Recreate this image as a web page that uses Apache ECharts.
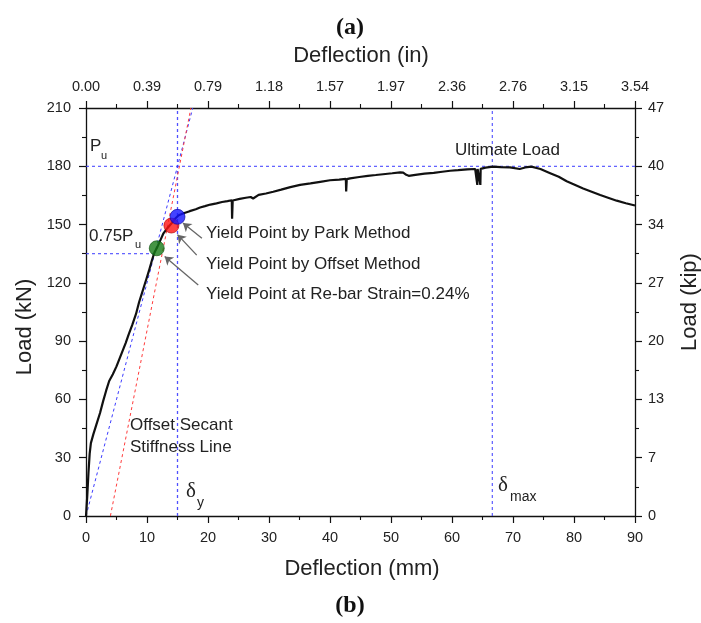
<!DOCTYPE html>
<html>
<head>
<meta charset="utf-8">
<script src="https://cdn.jsdelivr.net/npm/echarts@6/dist/echarts.min.js"></script>
<style>
html,body{margin:0;padding:0;background:#fff;}
#chart{width:701px;height:623px;}
</style>
</head>
<body>
<div id="chart"></div>
<script>
// ---- data ----
const deflectionMm = [0,0.2,0.4,0.6,0.8,1.2,1.7,2.3,2.8,3.3,3.8,4.4,5.0,5.5,6.0,6.5,7.0,7.6,8.2,8.7,9.2,9.5,9.9,10.3,10.8,11.2,11.7,12.2,12.7,13.3,14.0,14.6,15.2,16.0,17.0,18.0,18.7,19.5,20.4,21.4,22.3,23.2,23.9,23.95,24.05,24.2,25.2,26.2,27.0,27.4,27.7,28.3,29.5,30.7,32.0,33.5,35.1,36.8,38.4,40.0,41.5,42.6,42.65,42.75,43.3,44.8,46.2,47.5,48.7,50.2,51.5,52.0,52.5,52.9,54.0,55.5,57.0,58.4,59.7,61.0,62.5,63.8,64.15,64.2,64.3,64.65,64.7,64.8,65.5,66.7,68.0,69.5,71.1,72.0,73.0,74.5,76.0,77.5,78.8,80.2,81.5,83.0,84.3,85.7,87.0,88.5,90.0];
const loadKN = [0,10,22,32,37.5,42,47,53,59,64.5,69.5,73,77,81,85,89,93.5,98.5,104,110,115,118,122,126,131.5,135.5,138.5,142,145.5,148,150.5,153,154.8,155.8,156.9,157.9,158.8,159.5,160.3,160.9,161.6,162.1,162.5,153,162.4,162.7,163.2,163.8,164.2,163.4,164.3,165.3,166.0,166.9,168.0,169.3,170.4,171.2,172.0,172.8,173.1,173.5,167,173.4,173.8,174.5,175.1,175.5,175.9,176.4,176.9,176.7,175.6,175.1,175.6,176.2,176.6,177.2,177.7,178.0,178.4,178.6,170.4,178.6,178.6,170.4,178.7,178.9,179.3,179.8,179.6,179.4,178.6,179.4,179.8,178.6,176.6,174.6,172.3,170.4,168.6,166.8,165.2,163.7,162.3,161.0,159.8];

const bottomTickLabels = ['0','10','20','30','40','50','60','70','80','90'];
const topTickLabels = ['0.00','0.39','0.79','1.18','1.57','1.97','2.36','2.76','3.15','3.54'];
const leftTickLabels = ['0','30','60','90','120','150','180','210'];
const rightTickLabels = ['0','7','13','20','27','34','40','47'];

const yieldPark = [15.0, 154.0];
const yieldOffset = [14.0, 149.5];
const yieldRebar = [11.6, 137.8];
const ultimateLoad = 180;
const load075Pu = 135;
const deltaY = 15;
const deltaMax = 66.6;
const secantLine = [[0, 0], [17.5, 210]];
const offsetSecantLine = [[4, 0], [17.2, 210]];
const arrowPark = [[19.0, 142.9], [15.9, 150.8]];
const arrowOffset = [[18.15, 134.3], [15.0, 144.8]];
const arrowRebar = [[18.4, 118.9], [12.9, 133.6]];

// ---- chart ----
const FONT = 'Liberation Sans, Arial, sans-serif';
const TXT = '#222';
const BLUE = '#3b3bff';
const RED = '#ff3b3b';

const chart = echarts.init(document.getElementById('chart'), null, {renderer: 'canvas'});

function axisCommon(labels, step, margin) {
  return {
    min: 0,
    interval: step,
    axisLine: {show: true, onZero: false, lineStyle: {color: '#111', width: 1.3}},
    axisTick: {show: true, length: 7, lineStyle: {color: '#111', width: 1.2}},
    minorTick: {show: true, splitNumber: 2, length: 4, lineStyle: {color: '#111', width: 1.1}},
    splitLine: {show: false},
    axisPointer: {show: false},
    axisLabel: {
      margin: margin, fontSize: 14.5, fontFamily: FONT, color: TXT,
      formatter: v => labels[Math.round(v / step)]
    }
  };
}

const mainData = deflectionMm.map((x, i) => [x, loadKN[i]]);

function refLine(data, color, w) {
  return {
    type: 'line', data: data, showSymbol: false, silent: true, z: 1,
    color: color, itemStyle: {color: color},
    lineStyle: {color: color, type: [3, 3], width: w || 1},
    emphasis: {disabled: true}
  };
}

chart.setOption({
  animation: false,
  backgroundColor: '#fff',
  tooltip: {show: false},
  grid: {left: 86, right: 66, top: 108, bottom: 107},
  xAxis: [
    Object.assign(axisCommon(bottomTickLabels, 10, 14), {type: 'value', position: 'bottom', max: 90}),
    Object.assign(axisCommon(topTickLabels, 10, 14), {type: 'value', position: 'top', max: 90})
  ],
  yAxis: [
    Object.assign(axisCommon(leftTickLabels, 30, 15), {type: 'value', position: 'left', max: 210}),
    Object.assign(axisCommon(rightTickLabels, 30, 13), {type: 'value', position: 'right', max: 210})
  ],
  series: [
    refLine([[0, ultimateLoad], [90, ultimateLoad]], BLUE),
    refLine([[0, load075Pu], [yieldRebar[0], load075Pu]], BLUE),
    refLine([[deltaY, 0], [deltaY, 210]], '#5050ff', 1.3),
    refLine([[deltaMax, 0], [deltaMax, 210]], BLUE),
    refLine(secantLine, BLUE),
    refLine(offsetSecantLine, RED),
    {type: 'line', data: mainData, showSymbol: false, color: '#111', lineStyle: {color: '#111', width: 2.2}, z: 3, silent: true},
    {type: 'lines', coordinateSystem: 'cartesian2d', z: 4, silent: true,
      symbol: ['none', 'arrow'], symbolSize: 8,
      lineStyle: {color: '#666', width: 1.3, opacity: 1},
      data: [{coords: arrowPark}, {coords: arrowOffset}, {coords: arrowRebar}]},
    {type: 'scatter', z: 5, symbolSize: 15, silent: true,
      data: [
        {value: yieldRebar, itemStyle: {color: '#167a16', borderColor: '#0d4d0d', borderWidth: 0.8}},
        {value: yieldOffset, itemStyle: {color: '#ff1414', borderColor: '#a00', borderWidth: 0.8}},
        {value: yieldPark, itemStyle: {color: '#1414ff', borderColor: '#00009a', borderWidth: 0.8}}
      ]}
  ]
});

function txt(text, x, y, size, opts) {
  return Object.assign({
    type: 'text', x: x, y: y, z: 100,
    style: Object.assign({text: text, fontSize: size, fontFamily: FONT, fill: TXT, align: 'left', verticalAlign: 'middle'}, (opts && opts.style) || {})
  }, (opts && opts.el) || {});
}

const SERIF = 'Liberation Serif, Times New Roman, serif';
chart.setOption({
  graphic: [
    txt('(a)', 350, 28, 24, {style: {fontFamily: SERIF, fontWeight: 'bold', align: 'center', fill: '#111'}}),
    txt('(b)', 350, 606, 24, {style: {fontFamily: SERIF, fontWeight: 'bold', align: 'center', fill: '#111'}}),
    txt('Deflection (in)', 361, 56, 22, {style: {align: 'center'}}),
    txt('Deflection (mm)', 362, 569, 22, {style: {align: 'center'}}),
    txt('Load (kN)', 25, 327, 22, {style: {align: 'center'}, el: {rotation: Math.PI / 2}}),
    txt('Load (kip)', 690, 302, 22, {style: {align: 'center'}, el: {rotation: Math.PI / 2}}),
    txt('P', 90, 146, 17),
    txt('u', 101, 156, 11),
    txt('0.75P', 89, 236, 17),
    txt('u', 135, 245, 11),
    txt('Ultimate Load', 455, 150, 17),
    txt('Yield Point by Park Method', 206, 233, 17),
    txt('Yield Point by Offset Method', 206, 264, 17),
    txt('Yield Point at Re-bar Strain=0.24%', 206, 294, 17),
    txt('Offset Secant', 130, 425, 17),
    txt('Stiffness Line', 130, 447, 17),
    txt('\u03B4', 186, 491, 21, {style: {fontFamily: SERIF}}),
    txt('y', 197, 503, 14),
    txt('\u03B4', 498, 485, 21, {style: {fontFamily: SERIF}}),
    txt('max', 510, 497, 14)
  ]
});
</script>
</body>
</html>
